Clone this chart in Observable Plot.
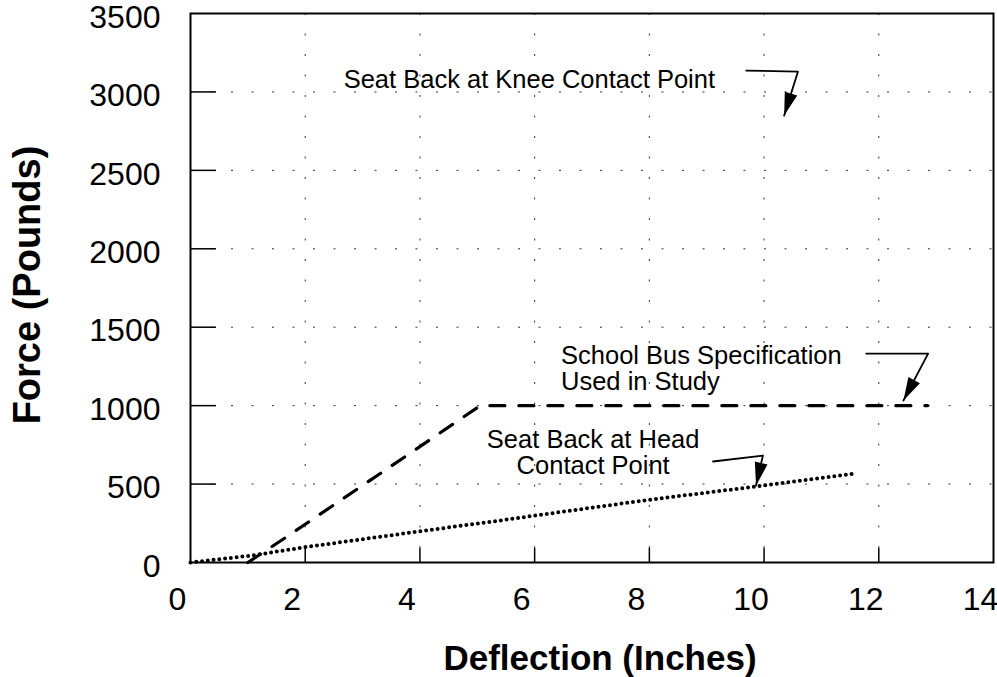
<!DOCTYPE html>
<html><head><meta charset="utf-8">
<script src="https://cdn.jsdelivr.net/npm/d3@7"></script>
<script src="https://cdn.jsdelivr.net/npm/@observablehq/plot@0.6"></script>
<style>
html,body{margin:0;padding:0;background:#fff;}
</style></head><body><div id="chart"></div>
<script>
// ---- data ----
const xTicks = [0, 2, 4, 6, 8, 10, 12, 14];
const yTicks = [0, 500, 1000, 1500, 2000, 2500, 3000, 3500];
const xGrid = [2, 4, 6, 8, 10, 12];
const yGrid = [500, 1000, 1500, 2000, 2500, 3000];

// School Bus Specification Used in Study (dashed)
const busDeflection = [1.0, 1.6, 3.4, 5.05, 12.85];
const busForce = [0, 145, 590, 1000, 1000];

// Seat Back at Head Contact Point (dotted)
const headDeflection = [0, 1.08, 2.0, 3.98, 5.4, 6.02, 8.0, 10.0, 11.55];
const headForce = [0, 45, 98, 198, 268, 300, 400, 491, 565];

const xTitle = "Deflection (Inches)";
const yTitle = "Force (Pounds)";

// annotation labels (data coordinates)
const noteTexts = ["Seat Back at Knee Contact Point", "School Bus Specification\nUsed in Study", "Seat Back at Head\nContact Point"];
const noteX = [2.67, 6.46, 7.02];
const noteY = [3143, 1380, 845];
const noteAnchor = ["start", "start", "middle"];

// annotation leader lines (data coordinates), last point = arrow tip
const kneeArrowX = [9.69, 10.59, 10.35];
const kneeArrowY = [3136, 3129, 2849];
const busArrowX = [11.78, 12.86, 12.43];
const busArrowY = [1332, 1332, 1033];
const headArrowX = [9.11, 9.98, 9.86];
const headArrowY = [644, 682, 491];

// ---- build tables ----
const bus = busDeflection.map((x, i) => ({x, y: busForce[i]}));
const head = headDeflection.map((x, i) => ({x, y: headForce[i]}));
const notes = noteTexts.map((t, i) => ({t, x: noteX[i], y: noteY[i], anchor: noteAnchor[i]}));
const arrows = [[kneeArrowX, kneeArrowY], [busArrowX, busArrowY], [headArrowX, headArrowY]]
  .map(([xs, ys], k) => xs.map((x, i) => ({k, x, y: ys[i]})));

const arrowHead = {
  draw(context, size) {
    const r = Math.sqrt(size / Math.PI);
    context.moveTo(0, 0);
    context.lineTo(-0.65 * r, -2.3 * r);
    context.lineTo(0.65 * r, -2.3 * r);
    context.closePath();
  }
};

const font = "'Liberation Sans', Arial, Helvetica, sans-serif";

function build(tips) {
  return Plot.plot({
    width: 997,
    height: 677,
    marginLeft: 190,
    marginRight: 4,
    marginTop: 13,
    marginBottom: 115,
    style: {fontFamily: font, background: "#fff", color: "#000", overflow: "visible"},
    x: {domain: [0, 14]},
    y: {domain: [0, 3500]},
    marks: [
      Plot.gridX(xGrid, {stroke: "#000", strokeOpacity: 0.8, strokeWidth: 1, strokeDasharray: "2,18.5"}),
      Plot.gridY(yGrid, {stroke: "#000", strokeOpacity: 0.8, strokeWidth: 1, strokeDasharray: "2,18.5"}),
      Plot.tickX(xGrid, {x: d => d, stroke: "#000", strokeWidth: 1.5, insetTop: 535}),
      Plot.tickY(yGrid, {y: d => d, stroke: "#000", strokeWidth: 1.5, insetRight: 777}),
      Plot.axisX(xTicks, {tickSize: 0, tickPadding: 25, dx: -13, fontSize: 32, label: null, tickFormat: d => String(d)}),
      Plot.axisY(yTicks, {tickSize: 0, tickPadding: 30, dy: 4, fontSize: 32, label: null, tickFormat: d => String(d)}),
      Plot.text([xTitle], {frameAnchor: "bottom", textAnchor: "middle", dx: 8, dy: 96, fontSize: 35, fontWeight: "bold", lineAnchor: "middle"}),
      Plot.text([yTitle], {frameAnchor: "left", textAnchor: "middle", dx: -163, dy: -3, rotate: -90, fontSize: 38, fontWeight: "bold", lineAnchor: "middle"}),
      Plot.line(bus, {x: "x", y: "y", stroke: "#000", strokeWidth: 3.2, strokeDasharray: "15,14"}),
      Plot.line(head, {x: "x", y: "y", stroke: "#000", strokeWidth: 4, strokeDasharray: "0,5.8", strokeLinecap: "round"}),
      Plot.text(notes, {x: "x", y: "y", text: "t", textAnchor: "start", fontSize: 25.5, lineHeight: 1.0, lineAnchor: "top", filter: d => d.anchor === "start"}),
      Plot.text(notes, {x: "x", y: "y", text: "t", textAnchor: "middle", fontSize: 25.5, lineHeight: 1.02, lineAnchor: "top", filter: d => d.anchor === "middle"}),
      ...arrows.map(a => Plot.line(a, {x: "x", y: "y", stroke: "#000", strokeWidth: 1.8})),
      Plot.dot(tips, {x: "x", y: "y", symbol: arrowHead, r: 10, fill: "#000", stroke: "none", rotate: "angle"}),
      Plot.frame({stroke: "#000", strokeWidth: 2})
    ]
  });
}

const probe = build([]);
const sx = probe.scale("x"), sy = probe.scale("y");
const tips = arrows.map(a => {
  const p = a[a.length - 2], q = a[a.length - 1];
  const dx = sx.apply(q.x) - sx.apply(p.x);
  const dy = sy.apply(q.y) - sy.apply(p.y);
  return {x: q.x, y: q.y, angle: Math.atan2(-dx, dy) * 180 / Math.PI};
});
document.getElementById("chart").append(build(tips));
</script>
</body></html>
